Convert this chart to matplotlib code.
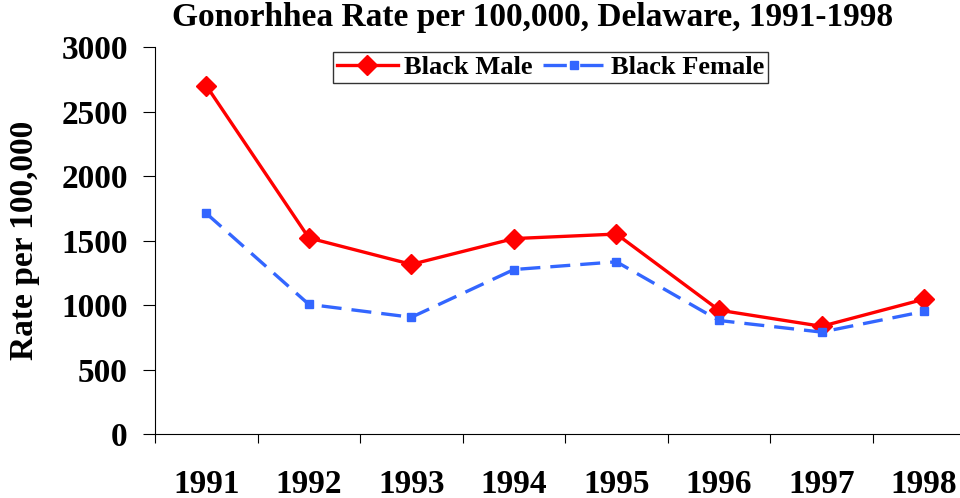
import numpy as np
import matplotlib.pyplot as plt

plt.rcParams['font.family'] = ['Liberation Serif', 'DejaVu Serif']
plt.rcParams['font.weight'] = 'bold'

years = ['1991', '1992', '1993', '1994', '1995', '1996', '1997', '1998']
black_male = [2700, 1520, 1315, 1515, 1550, 960, 835, 1045]
black_female = [1710, 1005, 905, 1275, 1335, 880, 790, 950]

fig = plt.figure(figsize=(9.6, 4.98), dpi=100)
ax = fig.add_axes([0.1615, 0.1285, 0.8385, 0.7771])

x = np.arange(len(years))
ax.plot(x, black_male, color='#FF0000', lw=2.4, marker='D', ms=10,
        label='Black Male')
ax.plot(x, black_female, color='#3366FF', lw=2.4, ls=(0, (6, 3)),
        marker='s', ms=6, label='Black Female')

ax.set_ylim(0, 3000)
ax.set_yticks(np.arange(0, 3001, 500))
ax.set_xlim(-0.5, 7.35)
ax.set_xticks(np.arange(-0.5, 7.5, 1.0))
ax.set_xticklabels([])
ax.set_xticks(x, minor=True)
ax.set_xticklabels(years, minor=True, fontsize=24, fontweight='bold')
ax.tick_params(axis='x', which='minor', length=0, pad=25)
ax.tick_params(axis='x', which='major', length=6.5, direction='out')
ax.tick_params(axis='y', length=8.6, direction='out', labelsize=24, pad=11)
for lab in ax.get_yticklabels():
    lab.set_fontweight('bold')

for s in ['top', 'right']:
    ax.spines[s].set_visible(False)

ax.set_ylabel('Rate per 100,000', fontsize=24, fontweight='bold')
ax.yaxis.set_label_coords(-0.143, 0.5)
fig.suptitle('Gonorhhea Rate per 100,000, Delaware, 1991-1998',
             fontsize=24, fontweight='bold', x=0.555, y=0.995, va='top')

leg = fig.legend(loc='upper left', bbox_to_anchor=(0.347, 0.8956), ncol=2,
                 frameon=True, fancybox=False, edgecolor='black',
                 prop={'size': 19, 'weight': 'bold'}, handlelength=2.3,
                 columnspacing=0.4, handletextpad=0.25, borderpad=0.15,
                 borderaxespad=0)
leg.get_frame().set_linewidth(1.0)
# dash - square - dash look in the legend key
leg.get_lines()[1].set_linestyle((0, (7, 4)))

fig.savefig('out.png', dpi=100)
